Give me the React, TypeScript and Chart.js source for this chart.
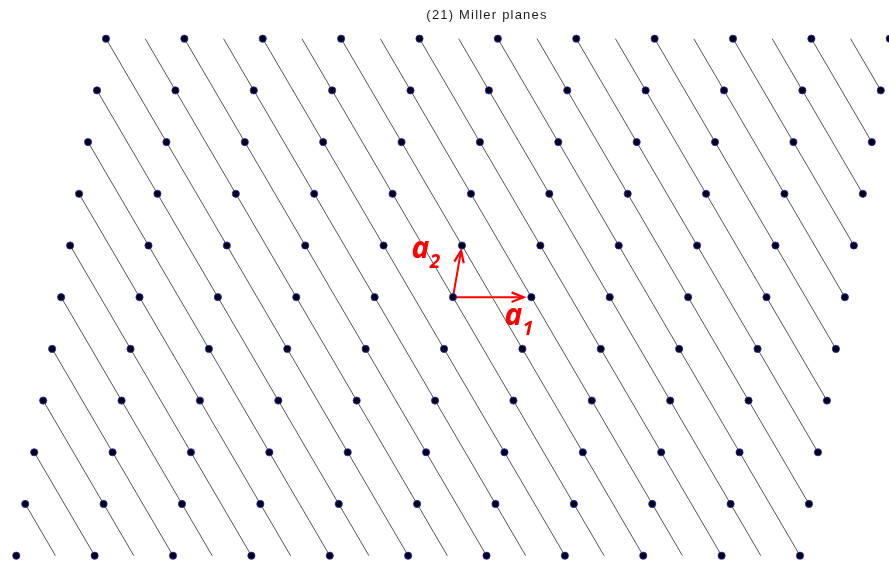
import { useEffect, useRef } from "react";
import { Chart, registerables } from "chart.js";

Chart.register(...registerables);

// Lattice cell indices along a1 and a2
const cellIndicesA1 = [-5, -4, -3, -2, -1, 0, 1, 2, 3, 4, 5];
const cellIndicesA2 = [-5, -4, -3, -2, -1, 0, 1, 2, 3, 4, 5];

// Primitive vectors of the oblique 2D lattice
const a1 = [1, 0];
const a2 = [0.1145, 0.66];

// Miller indices (h k) of the plane family
const miller = [2, 1];

// Quiver-style shortening of the basis arrows
const arrowScale = 0.9;

const titleText = "(21) Miller planes";
const arrowLabels = ["1", "2"];

type P = { x: number; y: number };

const toCart = (u: number, v: number): P => ({
  x: u * a1[0] + v * a2[0],
  y: u * a1[1] + v * a2[1],
});

function buildLattice(): P[] {
  const pts: P[] = [];
  for (const v of cellIndicesA2) {
    for (const u of cellIndicesA1) pts.push(toCart(u, v));
  }
  return pts;
}

// Segments of h*u + k*v = n clipped to the lattice parallelogram
function buildPlanes(): P[][] {
  const [h, k] = miller;
  const uMin = Math.min(...cellIndicesA1);
  const uMax = Math.max(...cellIndicesA1);
  const vMin = Math.min(...cellIndicesA2);
  const vMax = Math.max(...cellIndicesA2);
  const nMin = h * uMin + k * vMin;
  const nMax = h * uMax + k * vMax;
  const segs: P[][] = [];
  for (let n = nMin; n <= nMax; n++) {
    const lo = Math.max(uMin, (n - k * vMax) / h);
    const hi = Math.min(uMax, (n - k * vMin) / h);
    if (hi - lo <= 1e-9) continue;
    segs.push([toCart(lo, (n - h * lo) / k), toCart(hi, (n - h * hi) / k)]);
  }
  return segs;
}

export default function App() {
  const canvasRef = useRef<HTMLCanvasElement | null>(null);

  useEffect(() => {
    const canvas = canvasRef.current;
    if (!canvas) return;

    const lattice = buildLattice();
    const planes = buildPlanes();
    const tip1 = { x: a1[0] * arrowScale, y: a1[1] * arrowScale };
    const tip2 = { x: a2[0] * arrowScale, y: a2[1] * arrowScale };

    const planeSets = planes.map((seg) => ({
      data: seg,
      showLine: true,
      borderColor: "#555555",
      borderWidth: 1,
      pointRadius: 0,
      order: 2,
    }));

    const arrowSets = [tip1, tip2].map((tip) => ({
      data: [{ x: 0, y: 0 }, tip],
      showLine: true,
      borderColor: "#ff0000",
      borderWidth: 2,
      pointRadius: 0,
      order: 1,
    }));

    const overlay = {
      id: "overlay",
      afterDatasetsDraw(chart: any) {
        const ctx: CanvasRenderingContext2D = chart.ctx;
        const xs = chart.scales.x;
        const ys = chart.scales.y;
        const px = (p: P) => ({ x: xs.getPixelForValue(p.x), y: ys.getPixelForValue(p.y) });
        const o = px({ x: 0, y: 0 });

        // arrow heads
        ctx.save();
        ctx.strokeStyle = "#ff0000";
        ctx.lineWidth = 2.2;
        ctx.lineJoin = "miter";
        for (const tip of [tip1, tip2]) {
          const t = px(tip);
          const dx = t.x - o.x;
          const dy = t.y - o.y;
          const len = Math.hypot(dx, dy);
          const ux = dx / len;
          const uy = dy / len;
          const L = 12;
          const W = 4.8;
          const bx = t.x - ux * L;
          const by = t.y - uy * L;
          ctx.beginPath();
          ctx.moveTo(bx - uy * W, by + ux * W);
          ctx.lineTo(t.x, t.y);
          ctx.lineTo(bx + uy * W, by - ux * W);
          ctx.stroke();
        }

        // basis labels
        ctx.fillStyle = "#ff0000";
        ctx.textAlign = "left";
        ctx.textBaseline = "alphabetic";
        const offsets = [
          { dx: -19, dy: 28 },
          { dx: -49.5, dy: 7.5 },
        ];
        [tip1, tip2].forEach((tip, i) => {
          const t = px(tip);
          const lx = t.x + offsets[i].dx;
          const ly = t.y + offsets[i].dy;
          ctx.font = 'italic bold 30px "Noto Sans", "Open Sans", sans-serif';
          ctx.fillText("a", lx, ly);
          const w = ctx.measureText("a").width;
          ctx.font = 'italic bold 19px "Noto Sans", "Open Sans", sans-serif';
          ctx.fillText(arrowLabels[i], lx + w + 0.5, ly + 10);
        });

        // title
        ctx.fillStyle = "#1e1e1e";
        ctx.textAlign = "center";
        ctx.font = '13px "Liberation Sans", Arial, sans-serif';
        (ctx as any).letterSpacing = "1.2px";
        ctx.fillText(titleText, 487, 18.5);
        ctx.restore();
      },
    };

    const chart = new Chart(canvas, {
      type: "scatter",
      data: {
        datasets: [
          {
            data: lattice,
            pointRadius: 3.6,
            pointBackgroundColor: "#000014",
            pointBorderColor: "rgba(40,40,200,0.8)",
            pointBorderWidth: 1,
            showLine: false,
            order: 0,
          } as any,
          ...arrowSets,
          ...planeSets,
        ],
      },
      options: {
        responsive: false,
        animation: false,
        events: [],
        layout: { padding: 0, autoPadding: false },
        plugins: {
          legend: { display: false },
          tooltip: { enabled: false },
          title: { display: false },
        },
        scales: {
          x: { type: "linear", min: -5.78, max: 5.563, display: false },
          y: { type: "linear", min: -3.483, max: 3.794, display: false },
        },
      },
      plugins: [overlay],
    });

    return () => chart.destroy();
  }, []);

  return (
    <div style={{ position: "absolute", left: 0, top: 0, width: 889, height: 570, background: "#ffffff" }}>
      <canvas ref={canvasRef} width={889} height={570} style={{ display: "block" }} />
    </div>
  );
}
